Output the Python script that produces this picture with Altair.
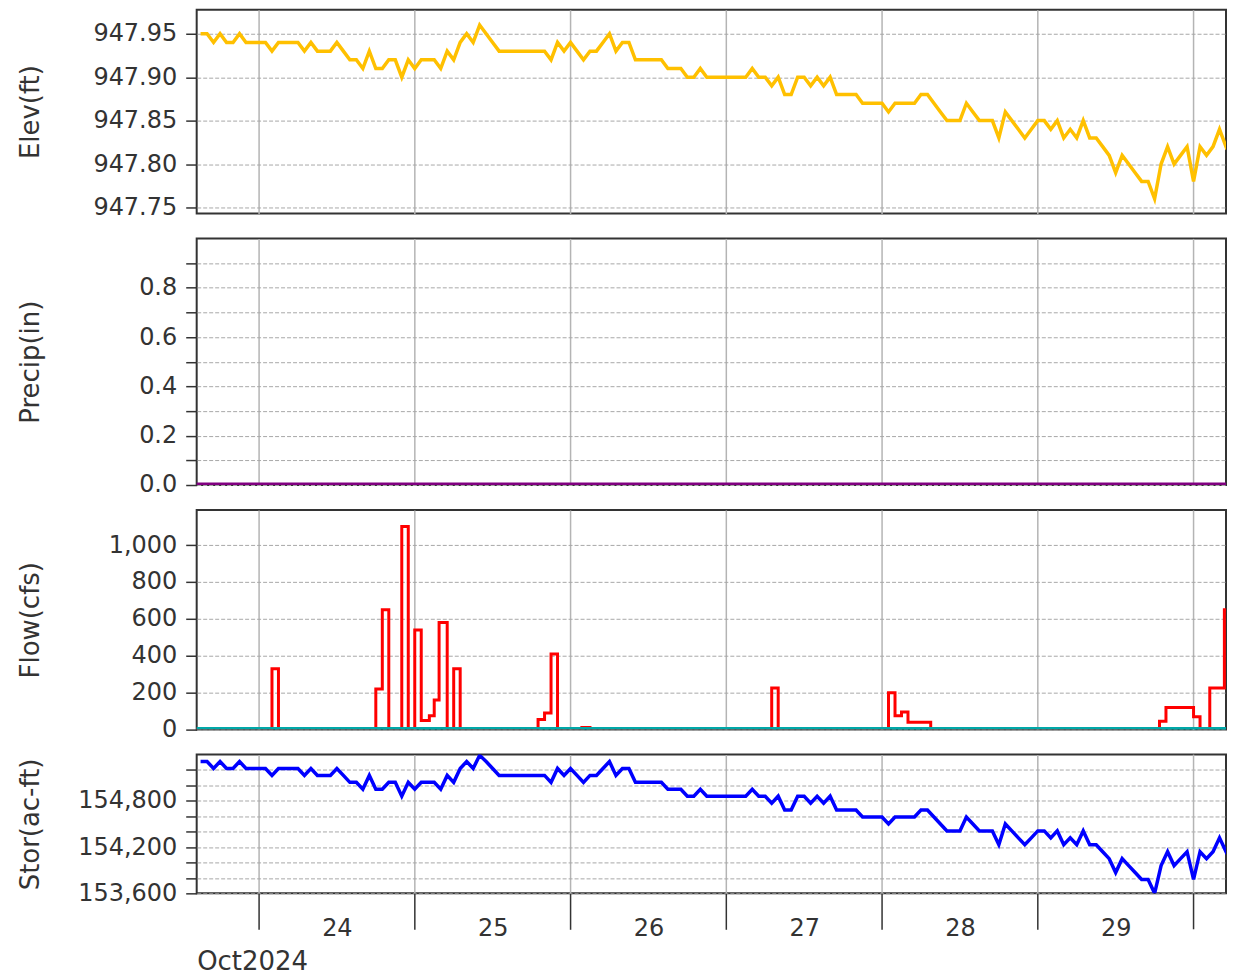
import altair as alt
import pandas as pd

# ---------------- data ----------------
SERIES_START = "2024-10-23 15:00"   # hourly observations start
FLOW_BASE = "2024-10-24 00:00"      # flow change-points are hours after this

elev_ft = [947.95, 947.95, 947.94, 947.95, 947.94, 947.94, 947.95, 947.94, 947.94, 947.94,
           947.94, 947.93, 947.94, 947.94, 947.94, 947.94, 947.93, 947.94, 947.93, 947.93,
           947.93, 947.94, 947.93, 947.92, 947.92, 947.91, 947.93, 947.91, 947.91, 947.92,
           947.92, 947.90, 947.92, 947.91, 947.92, 947.92, 947.92, 947.91, 947.93, 947.92,
           947.94, 947.95, 947.94, 947.96, 947.95, 947.94, 947.93, 947.93, 947.93, 947.93,
           947.93, 947.93, 947.93, 947.93, 947.92, 947.94, 947.93, 947.94, 947.93, 947.92,
           947.93, 947.93, 947.94, 947.95, 947.93, 947.94, 947.94, 947.92, 947.92, 947.92,
           947.92, 947.92, 947.91, 947.91, 947.91, 947.90, 947.90, 947.91, 947.90, 947.90,
           947.90, 947.90, 947.90, 947.90, 947.90, 947.91, 947.90, 947.90, 947.89, 947.90,
           947.88, 947.88, 947.90, 947.90, 947.89, 947.90, 947.89, 947.90, 947.88, 947.88,
           947.88, 947.88, 947.87, 947.87, 947.87, 947.87, 947.86, 947.87, 947.87, 947.87,
           947.87, 947.88, 947.88, 947.87, 947.86, 947.85, 947.85, 947.85, 947.87, 947.86,
           947.85, 947.85, 947.85, 947.83, 947.86, 947.85, 947.84, 947.83, 947.84, 947.85,
           947.85, 947.84, 947.85, 947.83, 947.84, 947.83, 947.85, 947.83, 947.83, 947.82,
           947.81, 947.79, 947.81, 947.80, 947.79, 947.78, 947.78, 947.76, 947.80, 947.82,
           947.80, 947.81, 947.82, 947.78, 947.82, 947.81, 947.82, 947.84, 947.82, 947.83]

stor_acft = [155310, 155310, 155220, 155310, 155220, 155220, 155310, 155220, 155220, 155220,
             155220, 155130, 155220, 155220, 155220, 155220, 155130, 155220, 155130, 155130,
             155130, 155220, 155130, 155040, 155040, 154950, 155130, 154950, 154950, 155040,
             155040, 154860, 155040, 154950, 155040, 155040, 155040, 154950, 155130, 155040,
             155220, 155310, 155220, 155390, 155310, 155220, 155130, 155130, 155130, 155130,
             155130, 155130, 155130, 155130, 155040, 155220, 155130, 155220, 155130, 155040,
             155130, 155130, 155220, 155310, 155130, 155220, 155220, 155040, 155040, 155040,
             155040, 155040, 154950, 154950, 154950, 154860, 154860, 154950, 154860, 154860,
             154860, 154860, 154860, 154860, 154860, 154950, 154860, 154860, 154770, 154860,
             154680, 154680, 154860, 154860, 154770, 154860, 154770, 154860, 154680, 154680,
             154680, 154680, 154590, 154590, 154590, 154590, 154500, 154590, 154590, 154590,
             154590, 154680, 154680, 154590, 154500, 154410, 154410, 154410, 154590, 154500,
             154410, 154410, 154410, 154230, 154500, 154410, 154320, 154230, 154320, 154410,
             154410, 154320, 154410, 154230, 154320, 154230, 154410, 154230, 154230, 154140,
             154050, 153870, 154050, 153960, 153870, 153780, 153780, 153600, 153960, 154140,
             153960, 154050, 154140, 153780, 154140, 154050, 154140, 154320, 154140, 154230]

flow_hours = [-10, 2, 3, 18, 19, 20, 22, 23, 24, 25, 26.25, 27, 27.75, 29, 30, 31,
              43, 44, 45, 46, 49.75, 51, 79, 80, 97, 98, 99, 100, 103.5,
              138.75, 139.75, 144, 145, 146.5, 148.75, 151]
flow_cfs = [0, 330, 0, 220, 650, 0, 1100, 0, 540, 50, 75, 160, 580, 0, 330, 0,
            55, 90, 410, 0, 12, 0, 225, 0, 200, 75, 95, 40, 0,
            45, 120, 70, 0, 225, 650, 650]

base_hours = [-10, 151]          # flat series (precip and outflow are zero)
precip_in = [0.0, 0.0]
outflow_cfs = [0, 0]

elev_ticks = [947.75, 947.80, 947.85, 947.90, 947.95]
precip_ticks = [0.0, 0.1, 0.2, 0.3, 0.4, 0.5, 0.6, 0.7, 0.8, 0.9]
flow_ticks = [0, 200, 400, 600, 800, 1000]
stor_ticks = [153600, 153800, 154000, 154200, 154400, 154600, 154800, 155000, 155200]
day_ticks = [24, 25, 26, 27, 28, 29, 30]
labelled_days = [24, 25, 26, 27, 28, 29]

# ---------------- tables ----------------
t0 = pd.Timestamp(SERIES_START)
fb = pd.Timestamp(FLOW_BASE)
fmt = "%Y-%m-%dT%H:%M:%S"
hourly_t = [(t0 + pd.Timedelta(hours=i)).strftime(fmt) for i in range(len(elev_ft))]
elev_df = pd.DataFrame({"t": hourly_t, "v": elev_ft})
stor_df = pd.DataFrame({"t": hourly_t, "v": stor_acft})
flow_df = pd.DataFrame({"t": [(fb + pd.Timedelta(hours=h)).strftime(fmt) for h in flow_hours],
                        "v": flow_cfs})
base_t = [(fb + pd.Timedelta(hours=h)).strftime(fmt) for h in base_hours]
precip_df = pd.DataFrame({"t": base_t, "v": precip_in})
outflow_df = pd.DataFrame({"t": base_t, "v": outflow_cfs})
last_tick_df = pd.DataFrame({"t": [pd.Timestamp(2024, 10, day_ticks[-1]).strftime(fmt)]})

# ---------------- shared x ----------------
xscale = alt.Scale(domain=[alt.DateTime(year=2024, month=10, date=23, hours=14, minutes=24),
                           alt.DateTime(year=2024, month=10, date=30, hours=5, minutes=0)])
midnights = [alt.DateTime(year=2024, month=10, date=d) for d in day_ticks]
label_midnights = [alt.DateTime(year=2024, month=10, date=d) for d in labelled_days]

W = 1031
GRID_COLOR = "#b4b4b4"
TXT = "#333333"


def x_plain():
    return alt.X("t:T", scale=xscale,
                 axis=alt.Axis(labels=False, ticks=False, title=None, domain=False, grid=True,
                               gridColor=GRID_COLOR, gridWidth=1.5, values=midnights))


def x_bottom():
    return alt.X("t:T", scale=xscale,
                 axis=alt.Axis(values=label_midnights, grid=True, gridColor=GRID_COLOR,
                               gridWidth=1.5, domain=False,
                               ticks=True, tickSize=36, tickColor=TXT, tickWidth=1.5,
                               labelExpr="timeFormat(datum.value, '%d')",
                               labelOffset=78, labelPadding=-13, labelFlush=False,
                               labelOverlap=False, labelBound=False,
                               labelFontSize=24, labelFont="DejaVu Sans", labelColor=TXT,
                               title="Oct2024", titleAnchor="start", titleAlign="left",
                               titlePadding=8, titleFontSize=26, titleFont="DejaVu Sans",
                               titleFontWeight="normal", titleColor=TXT))


YAX = dict(tickSize=11, labelPadding=9, tickColor=TXT, tickWidth=1.5,
           labelFontSize=24, labelFont="DejaVu Sans", labelColor=TXT,
           titleFontSize=26, titleFont="DejaVu Sans", titleFontWeight="normal",
           titleColor=TXT, titlePadding=25, minExtent=128, maxExtent=128,
           domain=False, grid=True, gridColor="#a8a8a8", gridDash=[4, 2], gridWidth=1,
           labelOverlap=False)

elev_chart = alt.Chart(elev_df).mark_line(color="#FFC000", strokeWidth=3.5, clip=True).encode(
    x=x_plain(),
    y=alt.Y("v:Q", scale=alt.Scale(domain=[947.7431, 947.9776], nice=False, zero=False),
            axis=alt.Axis(values=elev_ticks, format=".2f", title="Elev(ft)", **YAX)),
).properties(width=W, height=204)

precip_chart = alt.Chart(precip_df).mark_line(color="#800080", strokeWidth=5, clip=True).encode(
    x=x_plain(),
    y=alt.Y("v:Q", scale=alt.Scale(domain=[0, 1.0], nice=False),
            axis=alt.Axis(values=precip_ticks, title="Precip(in)",
                          labelExpr="round(datum.value * 10) % 2 == 0 ? format(datum.value, '.1f') : ''",
                          **YAX)),
).properties(width=W, height=247)

flow_y = alt.Y("v:Q", scale=alt.Scale(domain=[0, 1190], nice=False),
               axis=alt.Axis(values=flow_ticks, title="Flow(cfs)",
                             labelExpr="format(datum.value, ',')", **YAX))
flow_line = alt.Chart(flow_df).mark_line(color="#FF0000", strokeWidth=3, interpolate="step-after",
                                         clip=True).encode(x=x_plain(), y=flow_y)
outflow_line = alt.Chart(outflow_df).mark_line(color="#00A8A8", strokeWidth=5, clip=True).encode(
    x=x_plain(), y=flow_y)
flow_chart = alt.layer(flow_line, outflow_line).properties(width=W, height=220)

stor_y = alt.Y("v:Q", scale=alt.Scale(domain=[153600, 155400], nice=False, zero=False),
               axis=alt.Axis(values=stor_ticks, title="Stor(ac-ft)",
                             labelExpr="datum.value % 600 == 0 ? format(datum.value, ',') : ''",
                             **YAX))
stor_line = alt.Chart(stor_df).mark_line(color="#0000FF", strokeWidth=3.5, clip=True).encode(
    x=x_bottom(), y=stor_y)
# grid line and axis tick for the last midnight (it carries no day label)
last_grid = alt.Chart(last_tick_df).mark_rule(color=GRID_COLOR, strokeWidth=1.5).encode(
    x=alt.X("t:T", scale=xscale), y=alt.value(0), y2=alt.value(139))
last_tick = alt.Chart(last_tick_df).mark_rule(color=TXT, strokeWidth=1.5).encode(
    x=alt.X("t:T", scale=xscale), y=alt.value(139), y2=alt.value(175))
stor_chart = alt.layer(last_grid, stor_line, last_tick).properties(width=W, height=139)

chart = alt.vconcat(elev_chart, precip_chart, flow_chart, stor_chart,
                    spacing=25, bounds="flush").properties(
    padding={"left": 9, "top": 0, "right": 0, "bottom": 0},
    background="white",
).configure_view(stroke="#333333", strokeWidth=2)

chart.save("out.html", embed_options={"renderer": "svg", "actions": False})
